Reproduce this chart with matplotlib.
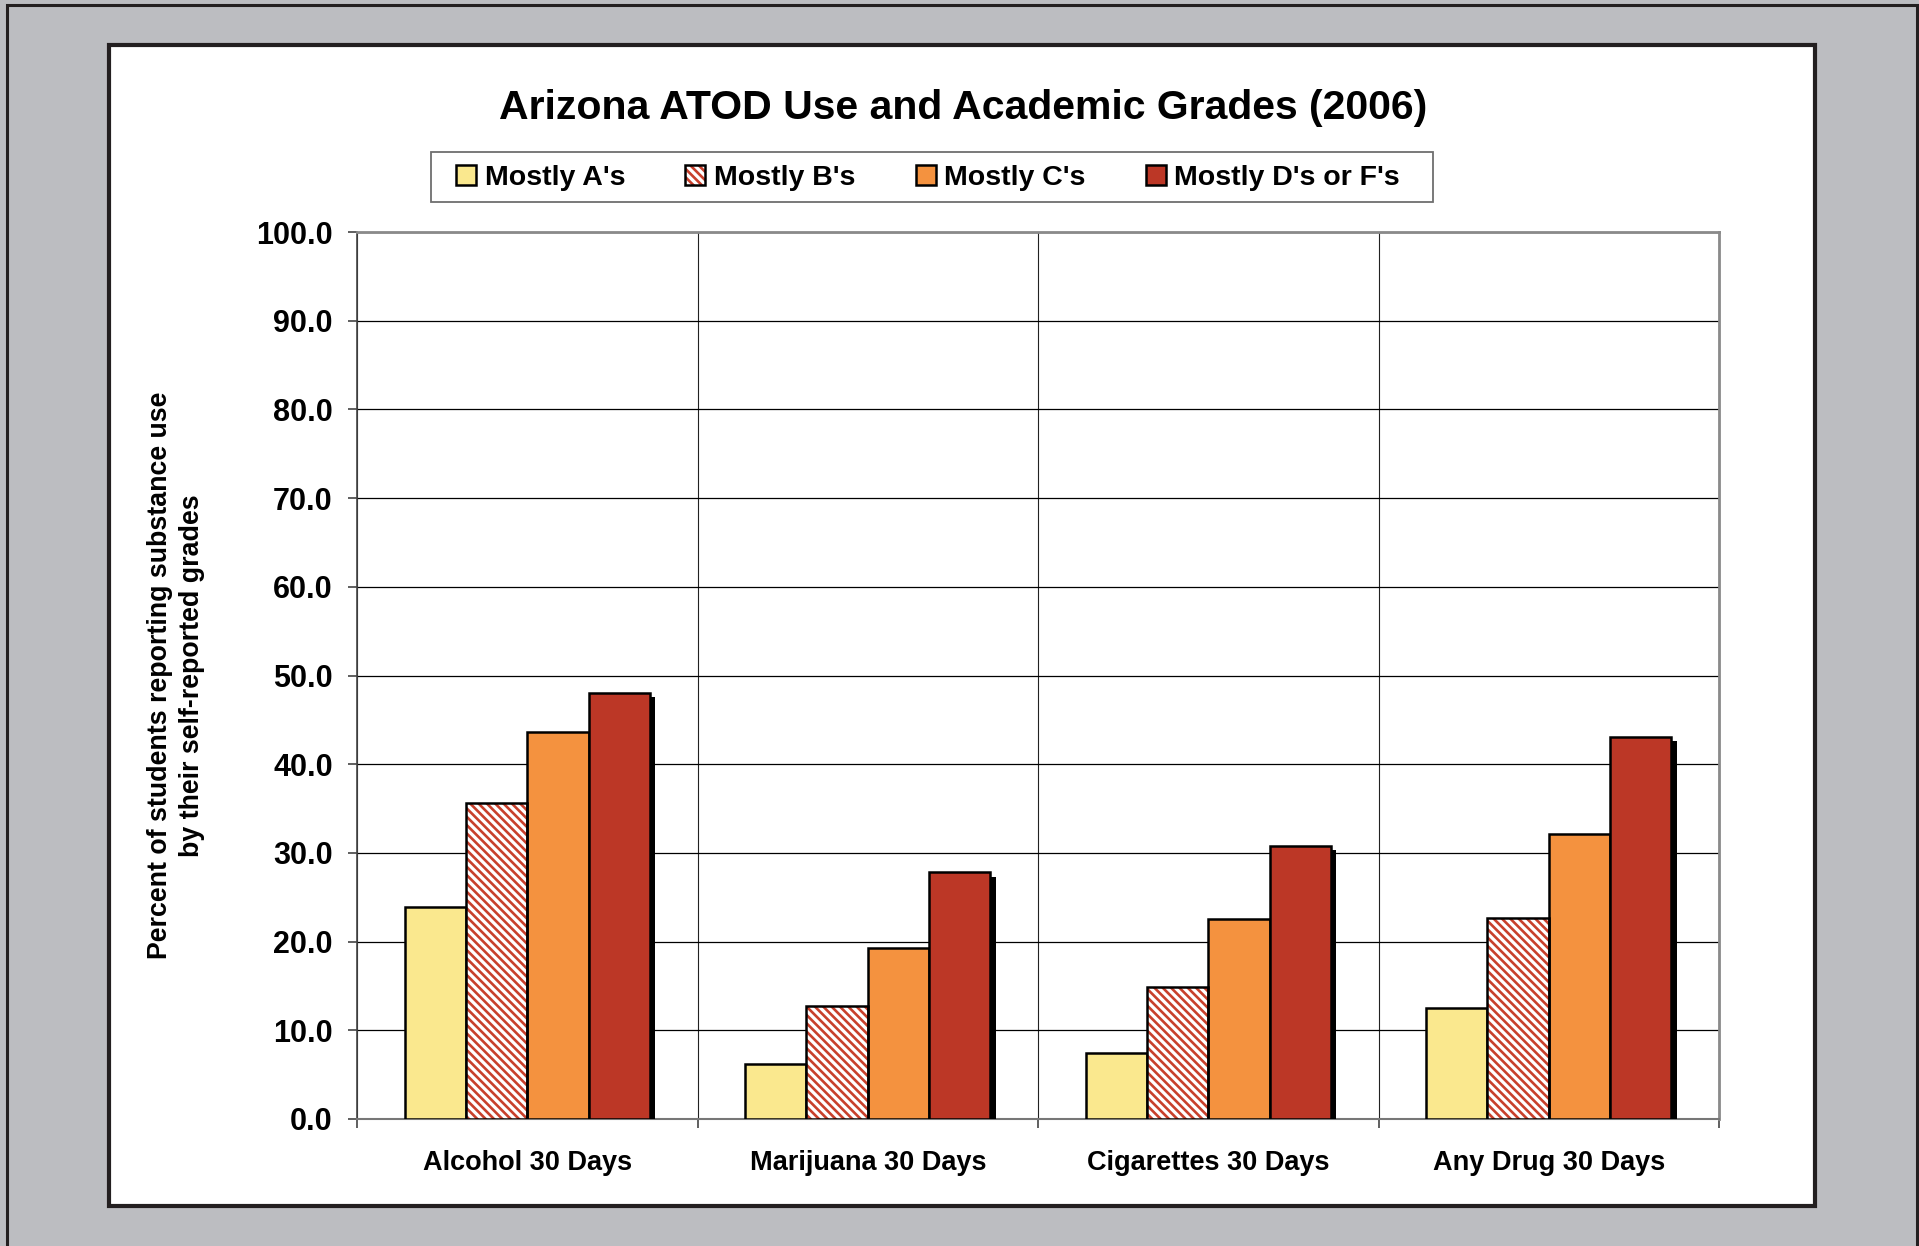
import matplotlib
matplotlib.use("Agg")
import matplotlib.pyplot as plt
import matplotlib.patheffects as pe
from matplotlib.patches import Rectangle, Patch
from matplotlib.legend_handler import HandlerTuple
import numpy as np

categories = ["Alcohol 30 Days", "Marijuana 30 Days", "Cigarettes 30 Days", "Any Drug 30 Days"]
series_names = ["Mostly A's", "Mostly B's", "Mostly C's", "Mostly D's or F's"]
mostly_a = [23.9, 6.2, 7.4, 12.5]
mostly_b = [35.6, 12.7, 14.9, 22.7]
mostly_c = [43.6, 19.3, 22.6, 32.1]
mostly_df = [48.0, 27.8, 30.8, 43.1]
y_ticks = np.arange(0, 101, 10)

col_a = "#FAE88E"
col_b = "#C8402C"
col_c = "#F4923F"
col_df = "#BC3726"

plt.rcParams["font.family"] = ["Liberation Sans", "DejaVu Sans"]
plt.rcParams["font.weight"] = "bold"
plt.rcParams["axes.labelweight"] = "bold"
plt.rcParams["hatch.color"] = col_b
plt.rcParams["hatch.linewidth"] = 1.9

W, H = 1919, 1246
fig = plt.figure(figsize=(W / 100, H / 100), dpi=100)
fig.patch.set_facecolor("#BCBDC1")

# outer frame lines and white panel, kept behind the axes
fig.add_artist(Rectangle((7 / W, -0.1), (1917 - 7) / W, 1.1 - 5 / H,
                         transform=fig.transFigure, fill=False,
                         edgecolor="#231F20", linewidth=2.2, zorder=-10))
fig.add_artist(Rectangle((109 / W, 1 - 1206 / H), (1815 - 109) / W, (1206 - 45) / H,
                         transform=fig.transFigure, facecolor="white",
                         edgecolor="#231F20", linewidth=3, zorder=-9))
# legend box
fig.add_artist(Rectangle((431 / W, 1 - 202 / H), (1433 - 431) / W, (202 - 152) / H,
                         transform=fig.transFigure, facecolor="white",
                         edgecolor="#6E6E6E", linewidth=1.3, zorder=-8))

ax = fig.add_axes([357 / W, 1 - 1119 / H, (1719 - 357) / W, (1119 - 232) / H])

x = np.arange(len(categories))
bw = 0.18
offs = (np.arange(4) - 1.5) * bw

ax.bar(x + offs[0], mostly_a, bw, color=col_a, edgecolor="black", linewidth=1.8, zorder=3)
hb = ax.bar(x + offs[1], mostly_b, bw, color="white", hatch="\\\\\\\\", zorder=3)
ob = ax.bar(x + offs[1], mostly_b, bw, fill=False, edgecolor="black", linewidth=1.8, zorder=3.1)
ax.bar(x + offs[2], mostly_c, bw, color=col_c, edgecolor="black", linewidth=1.8, zorder=3)
dfb = ax.bar(x + offs[3], mostly_df, bw, color=col_df, edgecolor="black", linewidth=1.8, zorder=3)
for p in dfb:
    p.set_path_effects([pe.SimplePatchShadow(offset=(4, -3), shadow_rgbFace="black", alpha=1.0),
                        pe.Normal()])

ax.set_xlim(-0.5, len(categories) - 0.5)
ax.set_ylim(0, 100)

ax.set_yticks(y_ticks)
ax.set_yticklabels([f"{v:.1f}" for v in y_ticks], fontsize=22)
ax.tick_params(axis="y", direction="out", length=6.5, width=1.2, pad=11, color="#444444")

ax.set_xticks(x)
ax.set_xticklabels(categories, fontsize=19.5)
ax.set_xticks(np.arange(-0.5, len(categories), 1), minor=True)
ax.tick_params(axis="x", which="major", length=0, pad=22)
ax.tick_params(axis="x", which="minor", direction="out", length=6.5, width=1.2, color="#444444")

ax.grid(axis="y", which="major", color="black", linewidth=0.9, zorder=0)
ax.grid(axis="x", which="minor", color="#222222", linewidth=0.8, zorder=0)
ax.set_axisbelow(True)

for s in ["top", "right"]:
    ax.spines[s].set_color("#8A8A8A")
    ax.spines[s].set_linewidth(2)
ax.spines["left"].set_color("#444444")
ax.spines["left"].set_linewidth(1.2)
ax.spines["bottom"].set_color("#777777")
ax.spines["bottom"].set_linewidth(1.5)

ax.set_ylabel("Percent of students reporting substance use\nby their self-reported grades",
              fontsize=19.3, labelpad=37, linespacing=1.3)

fig.text(963 / W, 1 - 108 / H, "Arizona ATOD Use and Academic Grades (2006)",
         ha="center", va="center", fontsize=29.5, fontweight="bold")

handles = [Patch(facecolor=col_a, edgecolor="black", linewidth=1.8),
           (hb[0], ob[0]),
           Patch(facecolor=col_c, edgecolor="black", linewidth=1.8),
           Patch(facecolor=col_df, edgecolor="black", linewidth=1.8)]
leg = fig.legend(handles, series_names, loc="center", ncol=4,
                 bbox_to_anchor=(928 / W, 1 - 178 / H), fontsize=20.5,
                 handlelength=0.7, handleheight=0.7, handletextpad=0.3,
                 columnspacing=2.12, borderpad=0.3, frameon=False,
                 handler_map={tuple: HandlerTuple(ndivide=1)})

fig.savefig("out.png", dpi=100, facecolor=fig.get_facecolor())
